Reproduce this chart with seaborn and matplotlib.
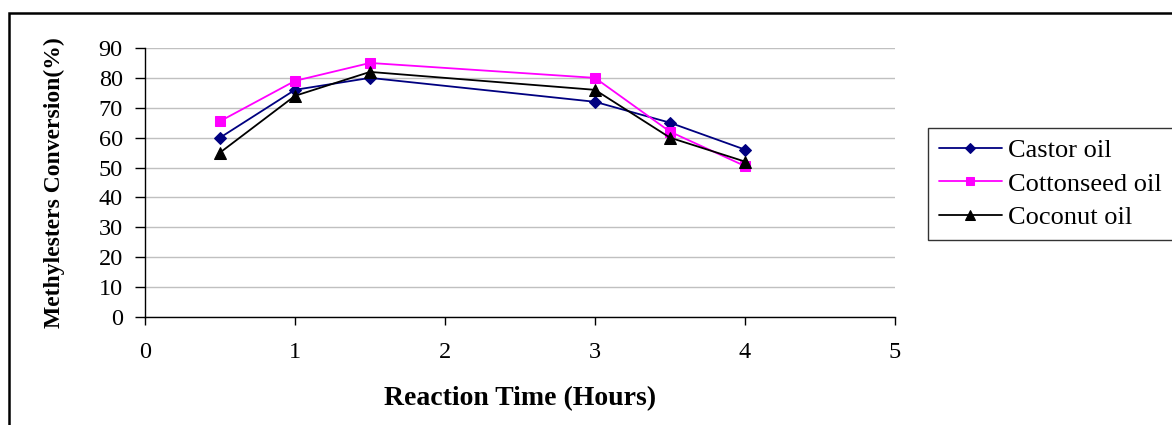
import matplotlib
matplotlib.use("Agg")
import matplotlib.pyplot as plt
import seaborn as sns
import pandas as pd
from matplotlib.patches import Rectangle

# Data
hours = [0.5, 1.0, 1.5, 3.0, 3.5, 4.0]
castor = [60, 76, 80, 72, 65, 56]
cottonseed = [65.5, 79, 85, 80, 62, 50.5]
coconut = [55, 74, 82, 76, 60, 52]
series_names = ["Castor oil", "Cottonseed oil", "Coconut oil"]
x_ticks = [0, 1, 2, 3, 4, 5]
y_ticks = [0, 10, 20, 30, 40, 50, 60, 70, 80, 90]

sns.set_style("white")
plt.rcParams["font.family"] = ["Liberation Serif", "DejaVu Serif"]
plt.rcParams["text.color"] = "black"
plt.rcParams["axes.labelcolor"] = "black"
plt.rcParams["xtick.color"] = "black"
plt.rcParams["ytick.color"] = "black"

W, H = 1172, 425
fig = plt.figure(figsize=(W / 100, H / 100), dpi=100)
ax = fig.add_axes([145 / W, 1 - 317 / H, (895 - 145) / W, (317 - 48) / H])

styles = [
    (castor, "#000080", "D", 6.5),
    (cottonseed, "#FF00FF", "s", 7.5),
    (coconut, "#000000", "^", 8.5),
]
for name, (vals, col, mk, ms) in zip(series_names, styles):
    df = pd.DataFrame({"x": hours, "y": vals})
    sns.lineplot(data=df, x="x", y="y", ax=ax, color=col, marker=mk,
                 markersize=ms, markeredgecolor=col, linewidth=1.3,
                 label=name)

ax.set_xlim(0, 5)
ax.set_ylim(0, 90)
ax.set_xticks(x_ticks)
ax.set_yticks(y_ticks)
ax.set_xticklabels([str(t) for t in x_ticks])
ax.set_yticklabels([str(t) for t in y_ticks])
ax.tick_params(axis="both", direction="out", width=1, color="black",
               labelcolor="black", labelsize=17.5, bottom=True, left=True)
ax.tick_params(axis="x", length=6, pad=12)
ax.tick_params(axis="y", length=7, pad=9)
ax.yaxis.grid(True, color="#c0c0c0", linewidth=1)
ax.xaxis.grid(False)
ax.spines["top"].set_visible(False)
ax.spines["right"].set_visible(False)
ax.spines["left"].set_color("black")
ax.spines["bottom"].set_color("black")
ax.spines["left"].set_linewidth(1)
ax.spines["bottom"].set_linewidth(1)
ax.set_axisbelow(True)

ax.set_xlabel("Reaction Time (Hours)", fontsize=20, fontweight="bold", color="black")
ax.xaxis.set_label_coords(0.5, -0.255)
ax.set_ylabel("Methylesters Conversion(%)", fontsize=17, fontweight="bold", color="black")
ax.yaxis.set_label_coords(-0.107, 0.5)

leg = ax.legend(loc="upper left", bbox_to_anchor=(928 / W, 1 - 128 / H),
                bbox_transform=fig.transFigure, frameon=True, fancybox=False,
                fontsize=19, handlelength=2.4, handletextpad=0.25,
                borderpad=0.4, labelspacing=0.38, borderaxespad=0,
                markerscale=0.85)
leg.get_frame().set_edgecolor("black")
leg.get_frame().set_linewidth(1)
for t in leg.get_texts():
    t.set_color("black")

# figure border
fig.patches.append(Rectangle((9 / W, -0.1), 1.1, 1 - 13 / H + 0.1,
                             transform=fig.transFigure, fill=False,
                             edgecolor="black", linewidth=1.8, zorder=10))

fig.savefig("out.png", dpi=100)
